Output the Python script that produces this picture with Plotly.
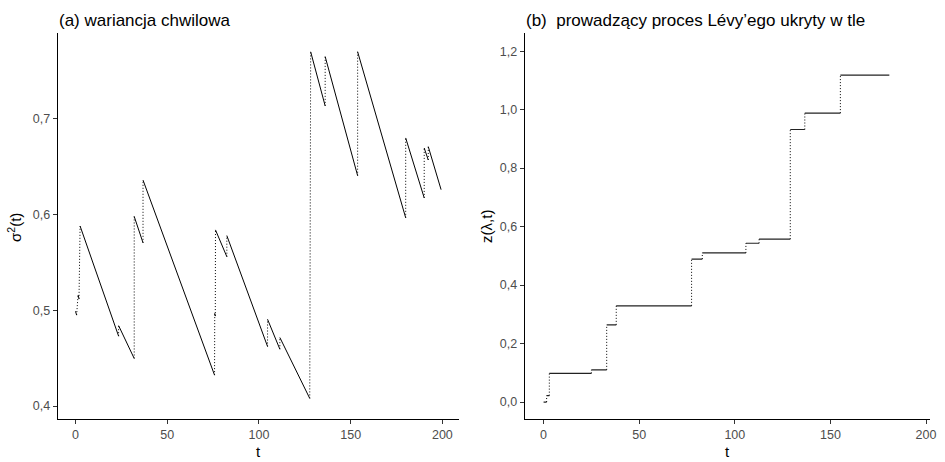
import plotly.graph_objects as go

# ---- Panel (a): wariancja chwilowa (decaying segments between jumps) ----
a_seg_t_start = [0.0, 1.4, 2.5, 23.5, 32.0, 36.8, 75.9, 76.3, 82.5, 104.7, 111.4, 128.2, 136.1, 153.8, 180.0, 190.1, 192.3]
a_seg_v_start = [0.499, 0.516, 0.588, 0.484, 0.598, 0.636, 0.497, 0.584, 0.578, 0.4906, 0.4716, 0.770, 0.765, 0.770, 0.680, 0.6695, 0.671]
a_seg_t_end   = [0.6, 1.9, 23.5, 32.0, 36.8, 75.8, 76.2, 82.5, 104.7, 111.4, 127.7, 136.1, 153.8, 180.0, 190.1, 192.3, 199.3]
a_seg_v_end   = [0.495, 0.512, 0.473, 0.4497, 0.5705, 0.4323, 0.494, 0.556, 0.4622, 0.4594, 0.408, 0.7135, 0.6406, 0.5966, 0.6174, 0.657, 0.626]

# ---- Panel (b): prowadzący proces Lévy'ego (step function) ----
b_step_t_start = [0.0, 1.6, 3.0, 25.0, 33.0, 38.0, 77.4, 83.0, 105.8, 112.7, 129.0, 136.6, 155.2]
b_step_t_end   = [1.6, 3.0, 25.0, 33.0, 38.0, 77.4, 83.0, 105.8, 112.7, 129.0, 136.6, 155.2, 180.8]
b_step_z       = [0.0, 0.022, 0.098, 0.110, 0.264, 0.329, 0.489, 0.510, 0.543, 0.557, 0.932, 0.988, 1.118]

x_ticks = [0, 50, 100, 150, 200]
a_y_ticks = [0.4, 0.5, 0.6, 0.7]
b_y_ticks = [0.0, 0.2, 0.4, 0.6, 0.8, 1.0, 1.2]

FONT = "Liberation Sans, Arial, sans-serif"
DOT = "1px,2px"


def solid_xy(t0, t1, v0, v1):
    xs, ys = [], []
    for a, b, c, d in zip(t0, t1, v0, v1):
        xs += [a, b, None]
        ys += [c, d, None]
    return xs, ys


def jump_xy(t0, t1, v0, v1):
    xs, ys = [], []
    for i in range(1, len(t0)):
        xs += [t1[i - 1], t0[i], None]
        ys += [v1[i - 1], v0[i], None]
    return xs, ys


fig = go.Figure()

# panel (a)
xs, ys = solid_xy(a_seg_t_start, a_seg_t_end, a_seg_v_start, a_seg_v_end)
fig.add_trace(go.Scatter(x=xs, y=ys, mode="lines", line=dict(color="black", width=1),
                         xaxis="x", yaxis="y", showlegend=False, hoverinfo="skip"))
xs, ys = jump_xy(a_seg_t_start, a_seg_t_end, a_seg_v_start, a_seg_v_end)
fig.add_trace(go.Scatter(x=xs, y=ys, mode="lines", line=dict(color="black", width=1, dash=DOT),
                         xaxis="x", yaxis="y", showlegend=False, hoverinfo="skip"))

# panel (b)
xs, ys = solid_xy(b_step_t_start, b_step_t_end, b_step_z, b_step_z)
fig.add_trace(go.Scatter(x=xs, y=ys, mode="lines", line=dict(color="#222222", width=1.2),
                         xaxis="x2", yaxis="y2", showlegend=False, hoverinfo="skip"))
xs, ys = jump_xy(b_step_t_start, b_step_t_end, b_step_z, b_step_z)
fig.add_trace(go.Scatter(x=xs, y=ys, mode="lines", line=dict(color="black", width=1, dash=DOT),
                         xaxis="x2", yaxis="y2", showlegend=False, hoverinfo="skip"))

W, H = 945, 462
ydom = [(H - 419) / H, (H - 33) / H]

axis_common = dict(showgrid=False, zeroline=False, showline=True, linecolor="black", linewidth=1,
                   ticks="outside", ticklen=4, tickwidth=1, tickcolor="#333333",
                   tickfont=dict(family=FONT, size=12.5, color="#4D4D4D"))

fig.update_layout(
    width=W, height=H,
    margin=dict(l=0, r=0, t=0, b=0),
    paper_bgcolor="white", plot_bgcolor="white",
    separators=", ",
    xaxis=dict(domain=[58 / W, 462 / W], range=[-9.75, 209.1], tickvals=x_ticks,
               anchor="y", **axis_common),
    yaxis=dict(domain=ydom, range=[0.3865, 0.7896], tickvals=a_y_ticks, tickformat=".1f",
               anchor="x", **axis_common),
    xaxis2=dict(domain=[528 / W, 936 / W], range=[-9.9, 202.1], tickvals=x_ticks,
                anchor="y2", **axis_common),
    yaxis2=dict(domain=ydom, range=[-0.058, 1.262], tickvals=b_y_ticks, tickformat=".1f",
                anchor="x2", **axis_common),
)

ann = [
    dict(text="(a) wariancja chwilowa", x=57 / W, y=(H - 21) / H, xanchor="left", yanchor="middle",
         font=dict(family=FONT, size=17, color="black")),
    dict(text="(b)\u00a0\u00a0prowadzący proces Lévy’ego ukryty w tle", x=527 / W, y=(H - 21) / H,
         xanchor="left", yanchor="middle", font=dict(family=FONT, size=17, color="black")),
    dict(text="t", x=260 / W, y=(H - 451) / H, xanchor="center", yanchor="middle",
         font=dict(family=FONT, size=15, color="black")),
    dict(text="t", x=732 / W, y=(H - 451) / H, xanchor="center", yanchor="middle",
         font=dict(family=FONT, size=15, color="black")),
    dict(text="σ<sup>2</sup>(t)", x=15 / W, y=(H - 227) / H, xanchor="center", yanchor="middle",
         textangle=-90, font=dict(family=FONT, size=15, color="black")),
    dict(text="z(λ,t)", x=489 / W, y=(H - 226) / H, xanchor="center", yanchor="middle",
         textangle=-90, font=dict(family=FONT, size=15, color="black")),
]
for a in ann:
    fig.add_annotation(xref="paper", yref="paper", showarrow=False, **a)

fig.write_html("out.html")
